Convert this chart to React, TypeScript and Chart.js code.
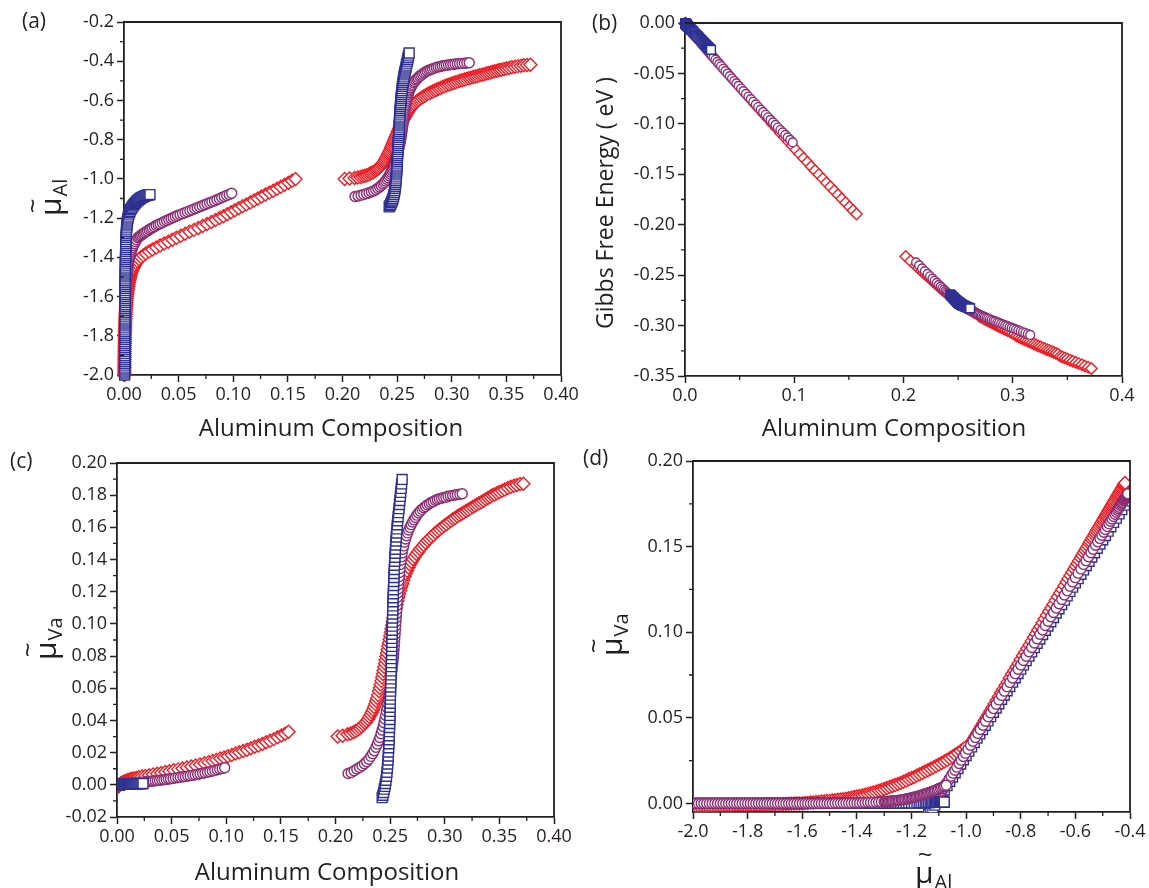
import React, { useEffect, useRef } from 'react';
import { Chart, registerables } from 'chart.js';

Chart.register(...registerables);

const FONT = '"Open Sans", "Noto Sans", "DejaVu Sans", sans-serif';
const INK = '#231F20';
const RED = '#ED1C24';
const PURPLE = '#8A2D73';
const BLUE = '#2E3192';

// ---------- red (diamonds), low-Al branch ----------
const redLowMu = [-2.00,-1.99,-1.98,-1.97,-1.96,-1.95,-1.94,-1.93,-1.92,-1.91,-1.90,-1.89,-1.88,-1.87,-1.86,-1.85,-1.84,-1.83,-1.82,-1.81,-1.80,-1.79,-1.78,-1.77,-1.76,-1.75,-1.74,-1.73,-1.72,-1.71,-1.70,-1.69,-1.68,-1.67,-1.66,-1.65,-1.64,-1.63,-1.62,-1.61,-1.60,-1.59,-1.58,-1.57,-1.56,-1.55,-1.54,-1.53,-1.52,-1.51,-1.50,-1.49,-1.48,-1.47,-1.46,-1.45,-1.44,-1.43,-1.42,-1.41,-1.40,-1.39,-1.38,-1.37,-1.36,-1.35,-1.34,-1.33,-1.32,-1.31,-1.30,-1.29,-1.28,-1.27,-1.26,-1.25,-1.24,-1.23,-1.22,-1.21,-1.20,-1.19,-1.18,-1.17,-1.16,-1.15,-1.14,-1.13,-1.12,-1.11,-1.10,-1.09,-1.08,-1.07,-1.06,-1.05,-1.04,-1.03,-1.02,-1.01,-1.00];
const redLowX = [0.0003,0.0003,0.0003,0.0003,0.0004,0.0004,0.0004,0.0004,0.0005,0.0005,0.0005,0.0005,0.0006,0.0006,0.0006,0.0006,0.0007,0.0007,0.0007,0.0008,0.0008,0.0008,0.0009,0.0009,0.0010,0.0010,0.0011,0.0011,0.0012,0.0013,0.0014,0.0015,0.0016,0.0017,0.0018,0.0019,0.0020,0.0021,0.0023,0.0024,0.0026,0.0028,0.0030,0.0032,0.0035,0.0038,0.0041,0.0044,0.0048,0.0052,0.0056,0.0061,0.0066,0.0073,0.0080,0.0089,0.0098,0.0110,0.0122,0.0138,0.0155,0.0176,0.0200,0.0229,0.0260,0.0295,0.0330,0.0368,0.0405,0.0443,0.0480,0.0520,0.0560,0.0600,0.0640,0.0680,0.0720,0.0760,0.0800,0.0838,0.0875,0.0910,0.0945,0.0980,0.1015,0.1050,0.1085,0.1120,0.1155,0.1190,0.1225,0.1260,0.1295,0.1330,0.1365,0.1400,0.1435,0.1470,0.1505,0.1538,0.1570];
const redLowG = [-0.0004,-0.0004,-0.0004,-0.0004,-0.0005,-0.0005,-0.0005,-0.0005,-0.0007,-0.0007,-0.0007,-0.0007,-0.0008,-0.0008,-0.0008,-0.0008,-0.0009,-0.0009,-0.0009,-0.0010,-0.0010,-0.0010,-0.0012,-0.0012,-0.0013,-0.0013,-0.0014,-0.0014,-0.0016,-0.0017,-0.0018,-0.0020,-0.0021,-0.0022,-0.0023,-0.0025,-0.0026,-0.0027,-0.0030,-0.0031,-0.0034,-0.0036,-0.0039,-0.0042,-0.0045,-0.0049,-0.0053,-0.0057,-0.0062,-0.0068,-0.0073,-0.0079,-0.0086,-0.0095,-0.0104,-0.0115,-0.0127,-0.0142,-0.0158,-0.0178,-0.0200,-0.0227,-0.0258,-0.0295,-0.0334,-0.0378,-0.0423,-0.0470,-0.0517,-0.0564,-0.0610,-0.0660,-0.0709,-0.0758,-0.0807,-0.0856,-0.0905,-0.0953,-0.1002,-0.1047,-0.1092,-0.1133,-0.1175,-0.1216,-0.1258,-0.1299,-0.1340,-0.1381,-0.1422,-0.1462,-0.1503,-0.1543,-0.1583,-0.1623,-0.1663,-0.1702,-0.1742,-0.1781,-0.1821,-0.1858,-0.1893];
const redLowVa = [-0.0012,-0.0012,-0.0012,-0.0011,-0.0011,-0.0011,-0.0011,-0.0010,-0.0010,-0.0010,-0.0010,-0.0009,-0.0009,-0.0009,-0.0009,-0.0008,-0.0008,-0.0008,-0.0008,-0.0007,-0.0007,-0.0007,-0.0007,-0.0006,-0.0006,-0.0006,-0.0006,-0.0005,-0.0005,-0.0005,-0.0005,-0.0004,-0.0004,-0.0003,-0.0003,-0.0002,-0.0002,-0.0001,-0.0001,0.0000,0.0000,0.0002,0.0003,0.0005,0.0006,0.0008,0.0009,0.0011,0.0012,0.0014,0.0015,0.0017,0.0019,0.0021,0.0023,0.0025,0.0028,0.0031,0.0034,0.0037,0.0040,0.0043,0.0047,0.0051,0.0055,0.0059,0.0064,0.0069,0.0074,0.0079,0.0085,0.0090,0.0096,0.0102,0.0108,0.0114,0.0120,0.0127,0.0134,0.0141,0.0148,0.0155,0.0163,0.0170,0.0178,0.0186,0.0194,0.0202,0.0210,0.0218,0.0227,0.0236,0.0245,0.0254,0.0264,0.0274,0.0284,0.0295,0.0306,0.0318,0.0330];

// ---------- red (diamonds), high-Al branch ----------
const redHighMu = [-1.000,-0.998,-0.995,-0.993,-0.990,-0.987,-0.984,-0.981,-0.977,-0.973,-0.969,-0.965,-0.960,-0.955,-0.950,-0.944,-0.938,-0.932,-0.925,-0.918,-0.911,-0.904,-0.896,-0.888,-0.880,-0.872,-0.864,-0.856,-0.848,-0.840,-0.832,-0.824,-0.816,-0.808,-0.800,-0.792,-0.784,-0.776,-0.768,-0.760,-0.752,-0.744,-0.736,-0.728,-0.720,-0.712,-0.704,-0.696,-0.688,-0.680,-0.672,-0.664,-0.656,-0.648,-0.640,-0.632,-0.625,-0.618,-0.611,-0.604,-0.598,-0.592,-0.586,-0.580,-0.575,-0.569,-0.564,-0.559,-0.554,-0.549,-0.545,-0.540,-0.536,-0.531,-0.527,-0.523,-0.519,-0.515,-0.511,-0.507,-0.504,-0.500,-0.497,-0.493,-0.490,-0.487,-0.484,-0.481,-0.478,-0.475,-0.472,-0.469,-0.466,-0.463,-0.460,-0.457,-0.454,-0.451,-0.448,-0.445,-0.443,-0.440,-0.437,-0.434,-0.431,-0.428,-0.425,-0.423,-0.421,-0.419,-0.418];
const redHighX = [0.2020,0.2065,0.2110,0.2138,0.2165,0.2185,0.2205,0.2223,0.2240,0.2255,0.2270,0.2284,0.2298,0.2310,0.2322,0.2333,0.2344,0.2354,0.2364,0.2373,0.2382,0.2390,0.2398,0.2406,0.2413,0.2420,0.2427,0.2434,0.2440,0.2447,0.2453,0.2459,0.2465,0.2471,0.2477,0.2483,0.2489,0.2495,0.2501,0.2507,0.2513,0.2519,0.2525,0.2531,0.2538,0.2545,0.2552,0.2559,0.2567,0.2575,0.2583,0.2592,0.2601,0.2611,0.2621,0.2632,0.2643,0.2655,0.2668,0.2681,0.2695,0.2710,0.2725,0.2741,0.2757,0.2773,0.2790,0.2807,0.2825,0.2842,0.2860,0.2878,0.2897,0.2916,0.2935,0.2955,0.2975,0.2995,0.3015,0.3035,0.3055,0.3075,0.3095,0.3115,0.3135,0.3155,0.3175,0.3195,0.3215,0.3235,0.3255,0.3275,0.3295,0.3315,0.3335,0.3355,0.3375,0.3395,0.3415,0.3435,0.3455,0.3478,0.3500,0.3525,0.3550,0.3578,0.3605,0.3633,0.3660,0.3690,0.3720];
const redHighG = [-0.2314,-0.2359,-0.2404,-0.2431,-0.2458,-0.2478,-0.2498,-0.2515,-0.2532,-0.2547,-0.2561,-0.2575,-0.2588,-0.2600,-0.2611,-0.2622,-0.2632,-0.2642,-0.2651,-0.2659,-0.2667,-0.2675,-0.2682,-0.2689,-0.2695,-0.2701,-0.2707,-0.2713,-0.2718,-0.2724,-0.2729,-0.2734,-0.2739,-0.2744,-0.2749,-0.2754,-0.2758,-0.2763,-0.2768,-0.2773,-0.2777,-0.2782,-0.2786,-0.2791,-0.2795,-0.2800,-0.2805,-0.2811,-0.2816,-0.2822,-0.2827,-0.2833,-0.2839,-0.2846,-0.2852,-0.2859,-0.2865,-0.2873,-0.2881,-0.2889,-0.2907,-0.2916,-0.2925,-0.2935,-0.2944,-0.2953,-0.2962,-0.2972,-0.2982,-0.2992,-0.3001,-0.3011,-0.3021,-0.3032,-0.3042,-0.3052,-0.3062,-0.3073,-0.3083,-0.3103,-0.3113,-0.3123,-0.3133,-0.3143,-0.3153,-0.3163,-0.3173,-0.3183,-0.3192,-0.3202,-0.3211,-0.3221,-0.3230,-0.3239,-0.3248,-0.3257,-0.3266,-0.3275,-0.3284,-0.3303,-0.3312,-0.3322,-0.3332,-0.3343,-0.3354,-0.3366,-0.3377,-0.3389,-0.3401,-0.3414,-0.3426];
const redHighVa = [0.0300,0.0305,0.0314,0.0319,0.0327,0.0335,0.0343,0.0351,0.0362,0.0373,0.0384,0.0395,0.0408,0.0422,0.0435,0.0451,0.0467,0.0484,0.0503,0.0521,0.0540,0.0559,0.0581,0.0602,0.0624,0.0646,0.0667,0.0689,0.0710,0.0732,0.0754,0.0775,0.0797,0.0818,0.0840,0.0862,0.0883,0.0905,0.0926,0.0948,0.0970,0.0991,0.1013,0.1034,0.1056,0.1078,0.1099,0.1121,0.1142,0.1164,0.1186,0.1207,0.1229,0.1250,0.1272,0.1294,0.1313,0.1331,0.1350,0.1369,0.1385,0.1402,0.1418,0.1434,0.1448,0.1464,0.1477,0.1491,0.1504,0.1518,0.1529,0.1542,0.1553,0.1566,0.1577,0.1588,0.1599,0.1610,0.1620,0.1631,0.1639,0.1650,0.1658,0.1669,0.1677,0.1685,0.1693,0.1701,0.1709,0.1718,0.1726,0.1734,0.1742,0.1750,0.1758,0.1766,0.1774,0.1782,0.1790,0.1799,0.1804,0.1812,0.1820,0.1828,0.1836,0.1844,0.1853,0.1858,0.1863,0.1869,0.1871];

// ---------- purple (circles), low-Al branch ----------
const purpleLowMu = [-2.00,-1.99,-1.98,-1.97,-1.96,-1.95,-1.94,-1.93,-1.92,-1.91,-1.90,-1.89,-1.88,-1.87,-1.86,-1.85,-1.84,-1.83,-1.82,-1.81,-1.80,-1.79,-1.78,-1.77,-1.76,-1.75,-1.74,-1.73,-1.72,-1.71,-1.70,-1.69,-1.68,-1.67,-1.66,-1.65,-1.64,-1.63,-1.62,-1.61,-1.60,-1.59,-1.58,-1.57,-1.56,-1.55,-1.54,-1.53,-1.52,-1.51,-1.50,-1.49,-1.48,-1.47,-1.46,-1.45,-1.44,-1.43,-1.42,-1.41,-1.40,-1.39,-1.38,-1.37,-1.36,-1.35,-1.34,-1.33,-1.32,-1.31,-1.30,-1.295,-1.290,-1.285,-1.280,-1.275,-1.270,-1.265,-1.259,-1.254,-1.249,-1.244,-1.238,-1.233,-1.228,-1.223,-1.217,-1.212,-1.207,-1.202,-1.197,-1.192,-1.187,-1.182,-1.177,-1.172,-1.167,-1.162,-1.157,-1.152,-1.147,-1.142,-1.137,-1.132,-1.127,-1.122,-1.117,-1.112,-1.106,-1.101,-1.095,-1.090,-1.084,-1.079,-1.073];
const purpleLowX = [0.0002,0.0002,0.0002,0.0002,0.0002,0.0003,0.0003,0.0003,0.0003,0.0003,0.0003,0.0003,0.0003,0.0004,0.0004,0.0004,0.0004,0.0004,0.0004,0.0005,0.0005,0.0005,0.0005,0.0006,0.0006,0.0006,0.0006,0.0007,0.0007,0.0008,0.0008,0.0009,0.0009,0.0010,0.0010,0.0011,0.0011,0.0012,0.0012,0.0013,0.0014,0.0015,0.0016,0.0017,0.0018,0.0019,0.0020,0.0022,0.0023,0.0025,0.0026,0.0028,0.0030,0.0032,0.0034,0.0036,0.0039,0.0042,0.0045,0.0048,0.0052,0.0056,0.0061,0.0066,0.0072,0.0079,0.0086,0.0095,0.0104,0.0115,0.0127,0.0138,0.0150,0.0162,0.0175,0.0188,0.0200,0.0215,0.0230,0.0245,0.0260,0.0278,0.0295,0.0313,0.0330,0.0350,0.0370,0.0390,0.0410,0.0430,0.0450,0.0470,0.0490,0.0513,0.0535,0.0558,0.0580,0.0603,0.0625,0.0648,0.0670,0.0693,0.0715,0.0738,0.0760,0.0783,0.0805,0.0828,0.0850,0.0873,0.0895,0.0918,0.0940,0.0963,0.0986];
const purpleLowG = [-0.0003,-0.0003,-0.0003,-0.0003,-0.0003,-0.0004,-0.0004,-0.0004,-0.0004,-0.0004,-0.0004,-0.0004,-0.0004,-0.0006,-0.0006,-0.0006,-0.0006,-0.0006,-0.0006,-0.0007,-0.0007,-0.0007,-0.0007,-0.0008,-0.0008,-0.0008,-0.0008,-0.0010,-0.0010,-0.0011,-0.0011,-0.0013,-0.0013,-0.0014,-0.0014,-0.0015,-0.0015,-0.0017,-0.0017,-0.0018,-0.0020,-0.0021,-0.0022,-0.0024,-0.0025,-0.0027,-0.0028,-0.0031,-0.0032,-0.0035,-0.0036,-0.0039,-0.0042,-0.0045,-0.0048,-0.0050,-0.0055,-0.0059,-0.0063,-0.0067,-0.0073,-0.0078,-0.0085,-0.0092,-0.0100,-0.0110,-0.0119,-0.0131,-0.0143,-0.0158,-0.0173,-0.0187,-0.0203,-0.0219,-0.0235,-0.0252,-0.0267,-0.0286,-0.0305,-0.0324,-0.0343,-0.0365,-0.0386,-0.0408,-0.0429,-0.0454,-0.0478,-0.0502,-0.0527,-0.0551,-0.0575,-0.0599,-0.0623,-0.0650,-0.0676,-0.0703,-0.0729,-0.0755,-0.0781,-0.0807,-0.0833,-0.0859,-0.0884,-0.0910,-0.0935,-0.0961,-0.0986,-0.1011,-0.1036,-0.1061,-0.1085,-0.1110,-0.1134,-0.1159,-0.1184];
const purpleLowVa = [0,0,0,0,0,0,0,0,0,0,0,0,0,0,0,0,0,0,0,0,0,0,0,0,0,0,0,0,0,0,0,0,0,0,0,0,0,0,0,0,0,0,0,0,0,0,0,0,0,0,0,0,0.0001,0.0001,0.0001,0.0001,0.0002,0.0002,0.0002,0.0003,0.0003,0.0003,0.0004,0.0004,0.0005,0.0005,0.0006,0.0007,0.0008,0.0009,0.0010,0.0011,0.0012,0.0012,0.0013,0.0014,0.0015,0.0015,0.0016,0.0017,0.0018,0.0019,0.0021,0.0022,0.0024,0.0025,0.0027,0.0028,0.0030,0.0032,0.0034,0.0036,0.0038,0.0040,0.0043,0.0045,0.0047,0.0050,0.0052,0.0055,0.0057,0.0060,0.0063,0.0066,0.0069,0.0072,0.0075,0.0078,0.0082,0.0086,0.0090,0.0094,0.0098,0.0102,0.0106];

// ---------- purple (circles), high-Al branch ----------
const purpleHighMu = [-1.090,-1.087,-1.083,-1.079,-1.075,-1.071,-1.066,-1.061,-1.055,-1.048,-1.041,-1.034,-1.026,-1.018,-1.010,-1.002,-0.993,-0.984,-0.975,-0.966,-0.957,-0.948,-0.938,-0.929,-0.919,-0.910,-0.900,-0.890,-0.880,-0.870,-0.860,-0.850,-0.840,-0.830,-0.820,-0.810,-0.800,-0.790,-0.780,-0.770,-0.760,-0.750,-0.740,-0.730,-0.720,-0.710,-0.700,-0.690,-0.680,-0.670,-0.660,-0.650,-0.640,-0.630,-0.620,-0.610,-0.600,-0.590,-0.580,-0.570,-0.561,-0.552,-0.543,-0.535,-0.526,-0.518,-0.510,-0.503,-0.496,-0.490,-0.483,-0.477,-0.471,-0.466,-0.460,-0.455,-0.450,-0.446,-0.442,-0.439,-0.435,-0.432,-0.429,-0.427,-0.424,-0.422,-0.420,-0.419,-0.417,-0.416,-0.414,-0.413,-0.412,-0.411,-0.410,-0.409,-0.408];
const purpleHighX = [0.2115,0.2143,0.2170,0.2195,0.2220,0.2243,0.2265,0.2285,0.2305,0.2323,0.2340,0.2355,0.2370,0.2383,0.2395,0.2406,0.2417,0.2427,0.2436,0.2444,0.2452,0.2459,0.2466,0.2472,0.2478,0.2484,0.2489,0.2494,0.2499,0.2504,0.2508,0.2513,0.2517,0.2521,0.2525,0.2529,0.2532,0.2535,0.2538,0.2541,0.2543,0.2546,0.2548,0.2551,0.2553,0.2556,0.2558,0.2561,0.2563,0.2566,0.2568,0.2571,0.2574,0.2577,0.2580,0.2584,0.2587,0.2591,0.2595,0.2600,0.2605,0.2611,0.2617,0.2625,0.2632,0.2641,0.2650,0.2660,0.2670,0.2682,0.2693,0.2706,0.2718,0.2732,0.2745,0.2760,0.2775,0.2791,0.2807,0.2824,0.2840,0.2858,0.2875,0.2894,0.2912,0.2931,0.2950,0.2970,0.2990,0.3010,0.3030,0.3051,0.3072,0.3094,0.3115,0.3138,0.3160];
const purpleHighG = [-0.2373,-0.2403,-0.2433,-0.2460,-0.2487,-0.2511,-0.2535,-0.2556,-0.2577,-0.2596,-0.2614,-0.2630,-0.2645,-0.2658,-0.2671,-0.2682,-0.2693,-0.2702,-0.2711,-0.2719,-0.2727,-0.2734,-0.2740,-0.2746,-0.2751,-0.2756,-0.2761,-0.2766,-0.2770,-0.2774,-0.2778,-0.2782,-0.2786,-0.2789,-0.2792,-0.2795,-0.2798,-0.2801,-0.2803,-0.2805,-0.2806,-0.2808,-0.2810,-0.2812,-0.2814,-0.2816,-0.2817,-0.2819,-0.2821,-0.2823,-0.2824,-0.2826,-0.2828,-0.2830,-0.2832,-0.2834,-0.2836,-0.2839,-0.2841,-0.2844,-0.2847,-0.2850,-0.2853,-0.2857,-0.2861,-0.2866,-0.2871,-0.2876,-0.2881,-0.2887,-0.2892,-0.2898,-0.2904,-0.2911,-0.2917,-0.2924,-0.2930,-0.2938,-0.2945,-0.2952,-0.2959,-0.2967,-0.2974,-0.2982,-0.2990,-0.2998,-0.3006,-0.3015,-0.3023,-0.3031,-0.3039,-0.3048,-0.3057,-0.3066,-0.3074,-0.3084,-0.3093];
const purpleHighVa = [0.0070,0.0077,0.0087,0.0098,0.0108,0.0118,0.0131,0.0143,0.0159,0.0177,0.0194,0.0212,0.0233,0.0253,0.0274,0.0294,0.0317,0.0340,0.0363,0.0386,0.0409,0.0432,0.0457,0.0480,0.0506,0.0529,0.0554,0.0580,0.0605,0.0631,0.0656,0.0682,0.0707,0.0733,0.0758,0.0784,0.0809,0.0835,0.0860,0.0886,0.0911,0.0937,0.0962,0.0988,0.1013,0.1039,0.1064,0.1090,0.1115,0.1141,0.1166,0.1192,0.1217,0.1243,0.1268,0.1294,0.1319,0.1345,0.1370,0.1396,0.1418,0.1441,0.1464,0.1485,0.1508,0.1528,0.1548,0.1566,0.1584,0.1600,0.1617,0.1633,0.1648,0.1661,0.1676,0.1689,0.1701,0.1712,0.1722,0.1730,0.1740,0.1747,0.1755,0.1760,0.1768,0.1773,0.1778,0.1781,0.1786,0.1788,0.1793,0.1796,0.1798,0.1801,0.1804,0.1806,0.1809];

// ---------- blue (squares), low-Al branch ----------
const blueLowMu = [-2.00,-1.99,-1.98,-1.97,-1.96,-1.95,-1.94,-1.93,-1.92,-1.91,-1.90,-1.89,-1.88,-1.87,-1.86,-1.85,-1.84,-1.83,-1.82,-1.81,-1.80,-1.79,-1.78,-1.77,-1.76,-1.75,-1.74,-1.73,-1.72,-1.71,-1.70,-1.69,-1.68,-1.67,-1.66,-1.65,-1.64,-1.63,-1.62,-1.61,-1.60,-1.59,-1.58,-1.57,-1.56,-1.55,-1.54,-1.53,-1.52,-1.51,-1.50,-1.49,-1.48,-1.47,-1.46,-1.45,-1.44,-1.43,-1.42,-1.41,-1.40,-1.39,-1.38,-1.37,-1.36,-1.35,-1.34,-1.33,-1.32,-1.31,-1.30,-1.29,-1.28,-1.27,-1.26,-1.25,-1.24,-1.23,-1.22,-1.21,-1.20,-1.19,-1.18,-1.172,-1.165,-1.157,-1.150,-1.144,-1.138,-1.132,-1.127,-1.122,-1.117,-1.112,-1.108,-1.104,-1.100,-1.097,-1.094,-1.091,-1.089,-1.087,-1.085,-1.083,-1.082,-1.081,-1.080];
const blueLowX = [0.0006,0.0006,0.0006,0.0006,0.0006,0.0006,0.0006,0.0006,0.0007,0.0007,0.0007,0.0007,0.0007,0.0007,0.0007,0.0007,0.0007,0.0007,0.0008,0.0008,0.0008,0.0008,0.0008,0.0008,0.0008,0.0008,0.0008,0.0008,0.0009,0.0009,0.0009,0.0009,0.0009,0.0009,0.0009,0.0009,0.0010,0.0010,0.0010,0.0010,0.0010,0.0010,0.0010,0.0010,0.0011,0.0011,0.0011,0.0011,0.0011,0.0011,0.0012,0.0012,0.0012,0.0012,0.0013,0.0013,0.0013,0.0013,0.0014,0.0014,0.0014,0.0014,0.0015,0.0015,0.0016,0.0016,0.0017,0.0017,0.0018,0.0018,0.0019,0.0020,0.0021,0.0022,0.0023,0.0024,0.0026,0.0028,0.0030,0.0033,0.0036,0.0040,0.0045,0.0050,0.0055,0.0061,0.0068,0.0075,0.0082,0.0089,0.0097,0.0105,0.0113,0.0121,0.0130,0.0139,0.0148,0.0157,0.0166,0.0175,0.0184,0.0193,0.0202,0.0211,0.0220,0.0229,0.0238];
const blueLowG = [-0.0008,-0.0008,-0.0008,-0.0008,-0.0008,-0.0008,-0.0008,-0.0008,-0.0009,-0.0009,-0.0009,-0.0009,-0.0009,-0.0009,-0.0009,-0.0009,-0.0009,-0.0009,-0.0010,-0.0010,-0.0010,-0.0010,-0.0010,-0.0010,-0.0010,-0.0010,-0.0010,-0.0010,-0.0012,-0.0012,-0.0012,-0.0012,-0.0012,-0.0012,-0.0012,-0.0012,-0.0013,-0.0013,-0.0013,-0.0013,-0.0013,-0.0013,-0.0013,-0.0013,-0.0014,-0.0014,-0.0014,-0.0014,-0.0014,-0.0014,-0.0016,-0.0016,-0.0016,-0.0016,-0.0017,-0.0017,-0.0017,-0.0017,-0.0018,-0.0018,-0.0018,-0.0018,-0.0019,-0.0019,-0.0021,-0.0021,-0.0022,-0.0022,-0.0023,-0.0023,-0.0025,-0.0026,-0.0027,-0.0028,-0.0030,-0.0031,-0.0033,-0.0035,-0.0037,-0.0040,-0.0043,-0.0047,-0.0053,-0.0058,-0.0064,-0.0070,-0.0078,-0.0086,-0.0094,-0.0102,-0.0111,-0.0120,-0.0129,-0.0138,-0.0148,-0.0158,-0.0168,-0.0178,-0.0188,-0.0198,-0.0208,-0.0218,-0.0228,-0.0238,-0.0248,-0.0258,-0.0267];
const blueLowVa = [0,0,0,0,0,0,0,0,0,0,0,0,0,0,0,0,0,0,0,0,0,0,0,0,0,0,0,0,0,0,0,0,0,0,0,0,0,0,0,0,0,0,0,0,0,0,0,0,0,0,0,0,0,0,0,0,0,0,0,0,0,0,0,0,0.0001,0.0001,0.0001,0.0001,0.0001,0.0001,0.0001,0.0002,0.0002,0.0002,0.0002,0.0002,0.0002,0.0003,0.0003,0.0003,0.0003,0.0003,0.0003,0.0004,0.0004,0.0004,0.0005,0.0005,0.0005,0.0005,0.0006,0.0006,0.0006,0.0006,0.0007,0.0007,0.0007,0.0007,0.0007,0.0007,0.0008,0.0008,0.0008,0.0008,0.0008,0.0008,0.0008];

// ---------- blue (squares), high-Al branch ----------
const blueHighMu = [-1.143,-1.137,-1.130,-1.122,-1.115,-1.108,-1.100,-1.090,-1.08,-1.07,-1.06,-1.05,-1.04,-1.03,-1.02,-1.01,-1.00,-0.99,-0.98,-0.97,-0.96,-0.95,-0.94,-0.93,-0.92,-0.91,-0.90,-0.89,-0.88,-0.87,-0.86,-0.85,-0.84,-0.83,-0.82,-0.81,-0.80,-0.79,-0.78,-0.77,-0.76,-0.75,-0.74,-0.73,-0.72,-0.71,-0.70,-0.69,-0.68,-0.67,-0.66,-0.65,-0.64,-0.63,-0.62,-0.61,-0.60,-0.59,-0.58,-0.57,-0.56,-0.55,-0.54,-0.53,-0.52,-0.51,-0.50,-0.49,-0.48,-0.47,-0.46,-0.45,-0.44,-0.43,-0.42,-0.41,-0.40,-0.39,-0.38,-0.369,-0.358];
const blueHighX = [0.2427,0.2434,0.2440,0.2446,0.2452,0.2457,0.2462,0.2467,0.2471,0.2475,0.2478,0.2481,0.2483,0.2485,0.2487,0.2489,0.2490,0.2492,0.2493,0.2495,0.2496,0.2497,0.2498,0.2499,0.2500,0.2501,0.2502,0.2503,0.2504,0.2505,0.2506,0.2507,0.2508,0.2509,0.2510,0.2511,0.2512,0.2513,0.2514,0.2515,0.2516,0.2517,0.2518,0.2519,0.2520,0.2521,0.2522,0.2523,0.2524,0.2525,0.2526,0.2527,0.2529,0.2530,0.2532,0.2533,0.2535,0.2536,0.2538,0.2540,0.2542,0.2544,0.2546,0.2548,0.2551,0.2553,0.2556,0.2559,0.2562,0.2565,0.2569,0.2573,0.2577,0.2581,0.2585,0.2589,0.2593,0.2597,0.2601,0.2605,0.2610];
const blueHighG = [-0.2690,-0.2698,-0.2705,-0.2712,-0.2718,-0.2724,-0.2729,-0.2735,-0.2739,-0.2743,-0.2747,-0.2750,-0.2752,-0.2754,-0.2756,-0.2758,-0.2759,-0.2761,-0.2762,-0.2764,-0.2765,-0.2766,-0.2767,-0.2768,-0.2769,-0.2770,-0.2771,-0.2772,-0.2772,-0.2773,-0.2774,-0.2775,-0.2776,-0.2777,-0.2777,-0.2778,-0.2779,-0.2780,-0.2781,-0.2781,-0.2782,-0.2783,-0.2784,-0.2784,-0.2785,-0.2786,-0.2787,-0.2787,-0.2788,-0.2789,-0.2789,-0.2790,-0.2791,-0.2792,-0.2793,-0.2794,-0.2795,-0.2795,-0.2797,-0.2798,-0.2799,-0.2800,-0.2801,-0.2802,-0.2804,-0.2805,-0.2806,-0.2808,-0.2809,-0.2811,-0.2813,-0.2814,-0.2816,-0.2818,-0.2820,-0.2821,-0.2823,-0.2825,-0.2826,-0.2828,-0.2830];
const blueHighVa = [-0.0080,-0.0065,-0.0048,-0.0027,-0.0010,0.0008,0.0028,0.0053,0.0078,0.0104,0.0129,0.0154,0.0179,0.0204,0.0230,0.0255,0.0280,0.0305,0.0330,0.0356,0.0381,0.0406,0.0431,0.0456,0.0482,0.0507,0.0532,0.0557,0.0582,0.0608,0.0633,0.0658,0.0683,0.0708,0.0734,0.0759,0.0784,0.0809,0.0834,0.0860,0.0885,0.0910,0.0935,0.0960,0.0986,0.1011,0.1036,0.1061,0.1086,0.1112,0.1137,0.1162,0.1187,0.1212,0.1238,0.1263,0.1288,0.1313,0.1338,0.1364,0.1389,0.1414,0.1439,0.1464,0.1490,0.1515,0.1540,0.1565,0.1590,0.1616,0.1641,0.1666,0.1691,0.1716,0.1742,0.1767,0.1792,0.1817,0.1842,0.1870,0.1898];

// ---------- text ----------
const X_TITLE = 'Aluminum Composition';
const G_TITLE = 'Gibbs Free Energy ( eV )';
const PANEL_LABELS = ['(a)', '(b)', '(c)', '(d)'];

const pts = (xs: number[], ys: number[]) => xs.map((x, i) => ({ x, y: ys[i] }));

const MARK: Record<string, { style: string; color: string; r: number }> = {
  red: { style: 'rectRot', color: RED, r: 6.5 },
  purple: { style: 'circle', color: PURPLE, r: 5 },
  blue: { style: 'rect', color: BLUE, r: 7 },
};

type AxisCfg = { min: number; max: number; step: number; minor: number; dec: number };
type TextItem = { kind: 'text' | 'mu'; text: string; x: number; y: number; size?: number; align?: CanvasTextAlign; vertical?: boolean };
type PanelCfg = {
  left: number; top: number; width: number; height: number;
  area: { l: number; t: number; r: number; b: number };
  x: AxisCfg; y: AxisCfg; scale: number; clip: any;
  series: [string, { x: number; y: number }[]][];
  texts: TextItem[];
};

const PANELS: PanelCfg[] = [
  {
    left: 0, top: 0, width: 600, height: 445,
    area: { l: 124, t: 22, r: 561, b: 375 },
    x: { min: 0, max: 0.4, step: 0.05, minor: 0.025, dec: 2 },
    y: { min: -2.0, max: -0.2, step: 0.2, minor: 0.1, dec: 1 },
    scale: 1, clip: false,
    series: [
      ['blue', pts(blueLowX, blueLowMu)], ['blue', pts(blueHighX, blueHighMu)],
      ['purple', pts(purpleLowX, purpleLowMu)], ['purple', pts(purpleHighX, purpleHighMu)],
      ['red', pts(redLowX, redLowMu)], ['red', pts(redHighX, redHighMu)],
    ],
    texts: [
      { kind: 'text', text: PANEL_LABELS[0], x: 22, y: 28, size: 21 },
      { kind: 'text', text: X_TITLE, x: 331, y: 436, size: 24, align: 'center' },
      { kind: 'mu', text: 'Al', x: 61, y: 216, vertical: true },
    ],
  },
  {
    left: 565, top: 0, width: 584, height: 445,
    area: { l: 685, t: 23, r: 1122, b: 376 },
    x: { min: 0, max: 0.4, step: 0.1, minor: 0.05, dec: 1 },
    y: { min: -0.35, max: 0, step: 0.05, minor: 0.025, dec: 2 },
    scale: 0.88, clip: false,
    series: [
      ['blue', pts(blueLowX, blueLowG)], ['blue', pts(blueHighX, blueHighG)],
      ['purple', pts(purpleLowX, purpleLowG)], ['purple', pts(purpleHighX, purpleHighG)],
      ['red', pts(redLowX, redLowG)], ['red', pts(redHighX, redHighG)],
    ],
    texts: [
      { kind: 'text', text: PANEL_LABELS[1], x: 592, y: 30, size: 21 },
      { kind: 'text', text: X_TITLE, x: 894, y: 436, size: 24, align: 'center' },
      { kind: 'text', text: G_TITLE, x: 613, y: 203, size: 23, align: 'center', vertical: true },
    ],
  },
  {
    left: 0, top: 445, width: 600, height: 443,
    area: { l: 117, t: 463, r: 554, b: 817 },
    x: { min: 0, max: 0.4, step: 0.05, minor: 0.025, dec: 2 },
    y: { min: -0.02, max: 0.2, step: 0.02, minor: 0.01, dec: 2 },
    scale: 1, clip: 0,
    series: [
      ['blue', pts(blueLowX, blueLowVa)], ['blue', pts(blueHighX, blueHighVa)],
      ['purple', pts(purpleLowX, purpleLowVa)], ['purple', pts(purpleHighX, purpleHighVa)],
      ['red', pts(redLowX, redLowVa)], ['red', pts(redHighX, redHighVa)],
    ],
    texts: [
      { kind: 'text', text: PANEL_LABELS[2], x: 10, y: 468, size: 21 },
      { kind: 'text', text: X_TITLE, x: 327, y: 880, size: 24, align: 'center' },
      { kind: 'mu', text: 'Va', x: 56, y: 660, vertical: true },
    ],
  },
  {
    left: 573, top: 445, width: 576, height: 443,
    area: { l: 693, t: 461, r: 1130, b: 812 },
    x: { min: -2.0, max: -0.4, step: 0.2, minor: 0.1, dec: 1 },
    y: { min: -0.005, max: 0.2, step: 0.05, minor: 0.025, dec: 2 },
    scale: 1, clip: 0,
    series: [
      ['purple', pts(purpleLowMu, purpleLowVa)], ['purple', pts(purpleHighMu, purpleHighVa)],
      ['blue', pts(blueLowMu, blueLowVa)], ['blue', pts(blueHighMu, blueHighVa)],
      ['red', pts(redLowMu, redLowVa)], ['red', pts(redHighMu, redHighVa)],
    ],
    texts: [
      { kind: 'text', text: PANEL_LABELS[3], x: 583, y: 465, size: 21 },
      { kind: 'mu', text: 'Va', x: 622, y: 656, vertical: true },
      { kind: 'mu', text: 'Al', x: 915, y: 883 },
    ],
  },
];

function drawMu(ctx: CanvasRenderingContext2D, x: number, y: number, sub: string, vertical?: boolean) {
  ctx.save();
  ctx.translate(x, y);
  if (vertical) ctx.rotate(-Math.PI / 2);
  ctx.fillStyle = INK;
  ctx.textBaseline = 'alphabetic';
  ctx.textAlign = 'left';
  ctx.font = `30px ${FONT}`;
  const mw = ctx.measureText('\u03BC').width;
  ctx.fillText('\u03BC', 0, 0);
  ctx.textAlign = 'center';
  ctx.font = `26px ${FONT}`;
  ctx.fillText('~', mw / 2 + 1, -20);
  ctx.textAlign = 'left';
  ctx.font = `20px ${FONT}`;
  ctx.fillText(sub, mw + 1, 6);
  ctx.restore();
}

function makeDecor(p: PanelCfg) {
  return {
    id: 'decor',
    afterDraw(chart: any) {
      const ctx: CanvasRenderingContext2D = chart.ctx;
      const a = chart.chartArea;
      const xs = chart.scales.x;
      const ys = chart.scales.y;
      ctx.save();
      ctx.strokeStyle = INK;
      ctx.lineWidth = 1.8;
      ctx.beginPath();
      ctx.moveTo(a.left, a.top);
      ctx.lineTo(a.right, a.top);
      ctx.lineTo(a.right, a.bottom);
      ctx.stroke();
      ctx.lineWidth = 1.3;
      ctx.beginPath();
      const minor = (s: any, cfg: AxisCfg, horiz: boolean) => {
        const k0 = Math.ceil(cfg.min / cfg.minor - 1e-6);
        const k1 = Math.floor(cfg.max / cfg.minor + 1e-6);
        for (let k = k0; k <= k1; k++) {
          const v = k * cfg.minor;
          const r = v / cfg.step;
          if (Math.abs(r - Math.round(r)) < 1e-6) continue;
          const px = s.getPixelForValue(v);
          if (horiz) { ctx.moveTo(px, a.bottom); ctx.lineTo(px, a.bottom + 4); }
          else { ctx.moveTo(a.left, px); ctx.lineTo(a.left - 4, px); }
        }
      };
      minor(xs, p.x, true);
      minor(ys, p.y, false);
      ctx.stroke();
      for (const t of p.texts) {
        const lx = t.x - p.left;
        const ly = t.y - p.top;
        if (t.kind === 'mu') { drawMu(ctx, lx, ly, t.text, t.vertical); continue; }
        ctx.save();
        ctx.translate(lx, ly);
        if (t.vertical) ctx.rotate(-Math.PI / 2);
        ctx.fillStyle = INK;
        ctx.font = `${t.size}px ${FONT}`;
        ctx.textAlign = t.align || 'left';
        ctx.textBaseline = 'alphabetic';
        ctx.fillText(t.text, 0, 0);
        ctx.restore();
      }
      ctx.restore();
    },
  };
}

function axisOpts(cfg: AxisCfg, horiz: boolean, size: number) {
  return {
    type: 'linear',
    position: horiz ? 'bottom' : 'left',
    min: cfg.min,
    max: cfg.max,
    ticks: {
      stepSize: cfg.step,
      includeBounds: false,
      autoSkip: false,
      maxRotation: 0,
      padding: horiz ? 2 : 3,
      color: INK,
      font: { family: FONT, size: 18 },
      callback: (v: number) => (Math.abs(v) < 1e-9 ? 0 : v).toFixed(cfg.dec),
    },
    grid: { drawOnChartArea: false, drawTicks: true, tickLength: 7, tickWidth: 1.5, tickColor: INK },
    border: { display: true, color: INK, width: 1.8 },
    afterFit: (s: any) => { if (horiz) s.height = size; else s.width = size; },
  };
}

function buildConfig(p: PanelCfg): any {
  const W = p.area.l - p.left;
  const H = p.top + p.height - p.area.b;
  const padTop = p.area.t - p.top;
  const padRight = p.left + p.width - p.area.r;
  return {
    type: 'scatter',
    data: {
      datasets: p.series.map(([kind, data]) => {
        const m = MARK[kind];
        const r = m.r * p.scale;
        return {
          data,
          showLine: false,
          pointStyle: m.style,
          pointRadius: r,
          pointHoverRadius: r,
          pointBorderWidth: 1.4,
          pointBorderColor: m.color,
          pointBackgroundColor: '#ffffff',
          borderColor: m.color,
          backgroundColor: '#ffffff',
          clip: p.clip,
        };
      }),
    },
    options: {
      animation: false,
      responsive: false,
      maintainAspectRatio: false,
      events: [],
      layout: { padding: { top: padTop, right: padRight, left: 0, bottom: 0 } },
      plugins: { legend: { display: false }, tooltip: { enabled: false }, title: { display: false } },
      scales: { x: axisOpts(p.x, true, H), y: axisOpts(p.y, false, W) },
    },
    plugins: [makeDecor(p)],
  };
}

function Panel({ cfg }: { cfg: PanelCfg }) {
  const ref = useRef<HTMLCanvasElement>(null);
  useEffect(() => {
    if (!ref.current) return;
    const chart = new Chart(ref.current, buildConfig(cfg));
    return () => chart.destroy();
  }, [cfg]);
  return (
    <canvas
      ref={ref}
      width={cfg.width}
      height={cfg.height}
      style={{ position: 'absolute', left: cfg.left, top: cfg.top, width: cfg.width, height: cfg.height }}
    />
  );
}

export default function App() {
  return (
    <div style={{ position: 'absolute', left: 0, top: 0, width: 1149, height: 888, background: '#ffffff', overflow: 'hidden' }}>
      {PANELS.map((p, i) => <Panel key={i} cfg={p} />)}
    </div>
  );
}
